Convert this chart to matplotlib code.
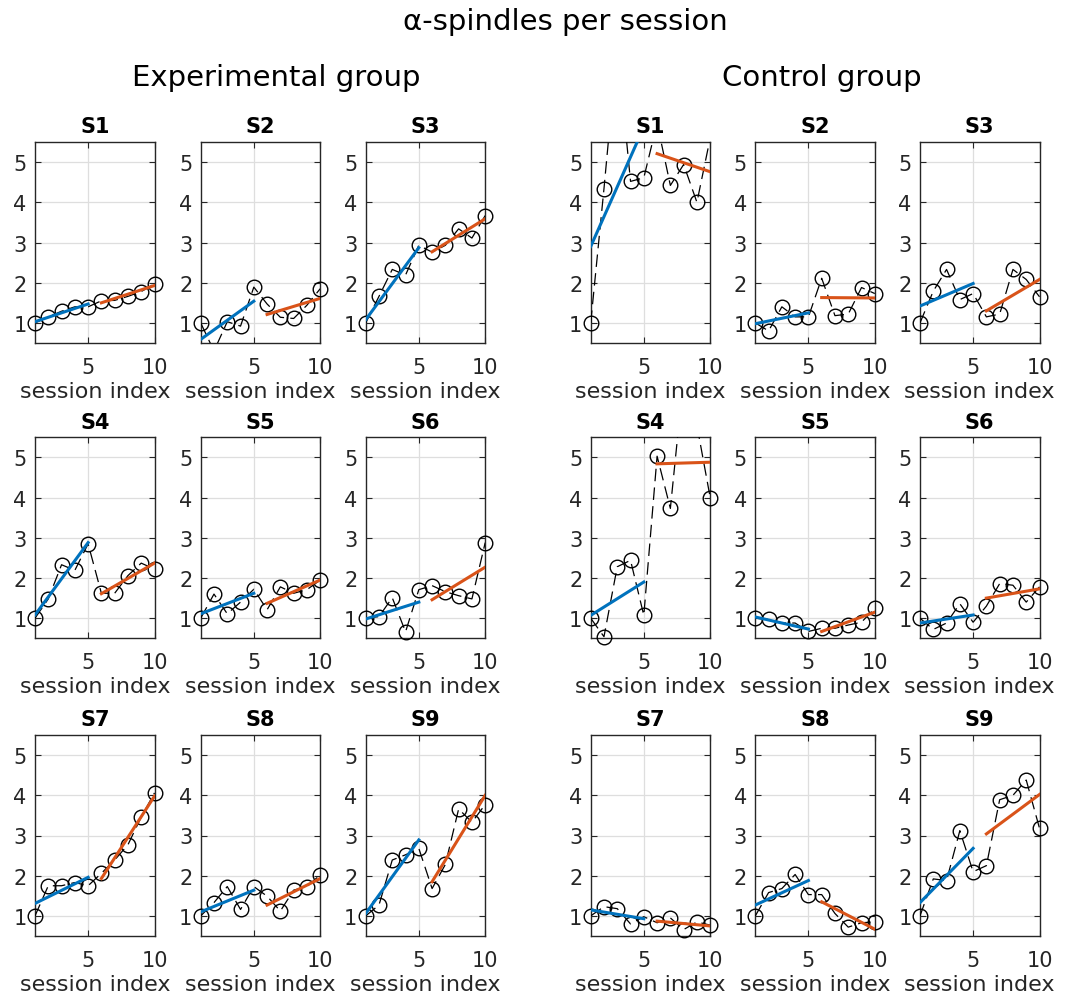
import numpy as np
import matplotlib
matplotlib.use("Agg")
import matplotlib.pyplot as plt

# session index and the per-subject values (normalised to the first session)
sessions = np.arange(1, 11)
subjects = ["S1", "S2", "S3", "S4", "S5", "S6", "S7", "S8", "S9"]

exp_data = [
    [1.0, 1.15, 1.29, 1.40, 1.40, 1.55, 1.56, 1.66, 1.78, 1.97],
    [1.0, 0.30, 1.03, 0.92, 1.89, 1.47, 1.14, 1.11, 1.44, 1.85],
    [1.0, 1.66, 2.33, 2.19, 2.93, 2.76, 2.93, 3.34, 3.11, 3.67],
    [1.0, 1.48, 2.33, 2.19, 2.85, 1.62, 1.62, 2.06, 2.37, 2.22],
    [1.0, 1.60, 1.11, 1.40, 1.72, 1.21, 1.78, 1.62, 1.71, 1.95],
    [1.0, 1.04, 1.51, 0.66, 1.71, 1.81, 1.66, 1.56, 1.48, 2.88],
    [1.0, 1.75, 1.75, 1.83, 1.75, 2.06, 2.39, 2.77, 3.46, 4.06],
    [1.0, 1.33, 1.73, 1.16, 1.73, 1.49, 1.12, 1.64, 1.73, 2.02],
    [1.0, 1.27, 2.39, 2.52, 2.68, 1.68, 2.28, 3.66, 3.33, 3.77],
]
# fit endpoints (value at session 1 and 5, value at session 6 and 10)
exp_fit_pre = [(1.03, 1.47), (0.59, 1.54), (1.08, 2.87), (1.08, 2.88), (1.11, 1.62),
               (0.98, 1.40), (1.31, 1.96), (1.10, 1.64), (1.06, 2.89)]
exp_fit_post = [(1.50, 1.93), (1.21, 1.61), (2.77, 3.59), (1.61, 2.37), (1.37, 1.95),
                (1.46, 2.27), (1.93, 3.98), (1.27, 1.93), (1.85, 4.00)]

ctrl_data = [
    [1.0, 4.34, 7.90, 4.52, 4.61, 5.97, 4.42, 4.94, 4.00, 5.60],
    [1.0, 0.80, 1.40, 1.15, 1.15, 2.11, 1.18, 1.22, 1.88, 1.73],
    [1.0, 1.79, 2.33, 1.58, 1.73, 1.15, 1.22, 2.33, 2.08, 1.65],
    [1.0, 0.54, 2.28, 2.44, 1.07, 5.03, 3.73, 7.00, 5.80, 4.00],
    [1.0, 0.97, 0.88, 0.88, 0.67, 0.75, 0.75, 0.83, 0.90, 1.25],
    [1.0, 0.72, 0.88, 1.36, 0.90, 1.30, 1.86, 1.82, 1.40, 1.78],
    [1.0, 1.23, 1.18, 0.80, 0.98, 0.83, 0.95, 0.66, 0.85, 0.77],
    [1.0, 1.58, 1.68, 2.03, 1.53, 1.53, 1.06, 0.72, 0.83, 0.85],
    [1.0, 1.92, 1.88, 3.12, 2.10, 2.25, 3.89, 4.00, 4.38, 3.18],
]
ctrl_fit_pre = [(2.90, 5.87), (0.98, 1.25), (1.42, 1.98), (1.07, 1.90), (1.03, 0.73),
                (0.88, 1.08), (1.15, 0.93), (1.27, 1.88), (1.33, 2.68)]
ctrl_fit_post = [(5.21, 4.76), (1.63, 1.62), (1.30, 2.08), (4.84, 4.88), (0.67, 1.15),
                 (1.50, 1.73), (0.87, 0.75), (1.35, 0.67), (3.04, 4.02)]

BLUE = "#0072BD"
ORANGE = "#D95319"
DARK = "#262626"
W, H = 1079, 995
YLIM = (0.5, 5.5)

fig = plt.figure(figsize=(W / 100, H / 100), dpi=100)
plt.rcParams['font.family'] = ['DejaVu Sans']

col_left = [35, 200.7, 365.7, 590.7, 755.3, 920]
row_top = [143, 438.3, 736]
ax_w, ax_h = 119.5, 201


def panel(ax, vals, pre, post, name):
    vals = np.array(vals)
    ax.plot(sessions, vals, color='k', lw=0.9, dashes=(10, 5), zorder=3)
    # circles stay whole at the box edges, but points off the y range are hidden
    inside = (vals >= YLIM[0]) & (vals <= YLIM[1])
    ax.plot(sessions[inside], vals[inside], 'o', ms=10.5, mfc='none', mec='k',
            mew=1.0, zorder=3, clip_on=False)
    ax.plot(sessions[[0, 4]], pre, color=BLUE, lw=2.2, zorder=4)
    ax.plot(sessions[[5, 9]], post, color=ORANGE, lw=2.2, zorder=4)
    ax.set_xlim(1, 10)
    ax.set_ylim(*YLIM)
    ax.set_xticks([5, 10])
    ax.set_yticks([1, 2, 3, 4, 5])
    ax.grid(True, color='#dedede', lw=0.9)
    ax.set_axisbelow(True)
    ax.tick_params(direction='in', top=True, right=True, length=4,
                   labelsize=15, pad=6, color=DARK, labelcolor=DARK)
    ax.tick_params(axis='x', pad=10)
    for s in ax.spines.values():
        s.set_color(DARK)
        s.set_linewidth(1.0)
    ax.set_title(name, fontsize=15, fontweight='bold', pad=7)
    ax.set_xlabel("session index", fontsize=16, color=DARK, labelpad=3)


for g, (data, fpre, fpost) in enumerate([(exp_data, exp_fit_pre, exp_fit_post),
                                         (ctrl_data, ctrl_fit_pre, ctrl_fit_post)]):
    for i in range(9):
        r, c = divmod(i, 3)
        left = col_left[g * 3 + c]
        top = row_top[r]
        ax = fig.add_axes([left / W, 1 - (top + ax_h) / H, ax_w / W, ax_h / H])
        panel(ax, data[i], fpre[i], fpost[i], subjects[i])

fig.text(565 / W, 1 - 22 / H, "α-spindles per session", ha='center', va='center', fontsize=21)
fig.text(276 / W, 1 - 78 / H, "Experimental group", ha='center', va='center', fontsize=21)
fig.text(822 / W, 1 - 78 / H, "Control group", ha='center', va='center', fontsize=21)

fig.savefig("out.png", dpi=100)
